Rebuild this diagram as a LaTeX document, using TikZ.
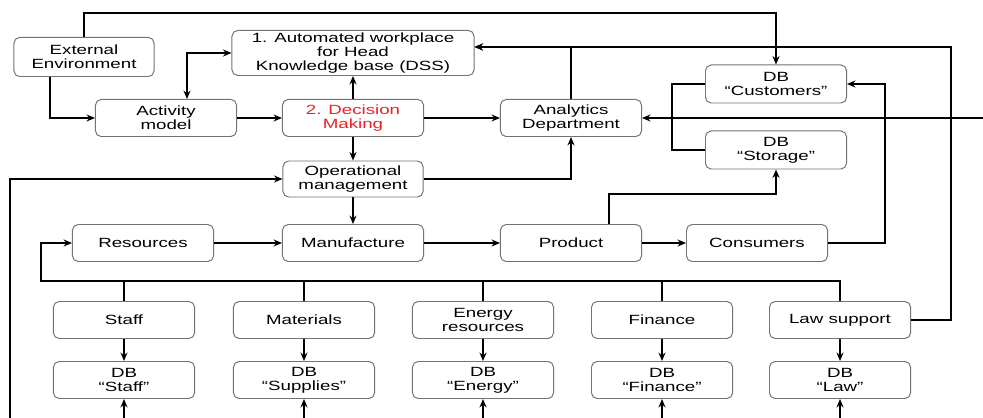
\documentclass[tikz,border=0pt]{standalone}
\usepackage{fontspec}
\setmainfont[FakeStretch=1.4]{Liberation Sans}
\usetikzlibrary{arrows.meta}
\definecolor{decred}{RGB}{236,32,38}

\begin{document}
\begin{tikzpicture}[x=0.025cm,y=-0.025cm,
    box/.style={draw=black!55,line width=0.7pt,rounded corners=4pt,fill=white,
        minimum width=3.525cm,minimum height=0.925cm,inner sep=1pt,align=center,
        font=\fontsize{9.5}{9.8}\selectfont}]
\useasboundingbox (0,0) rectangle (983,418);
\begin{scope}
    \node[box,minimum width=3.5cm,minimum height=0.975cm] (extenv) at (84,57) {External\\Environment};
    \node[box,minimum width=6.05cm,minimum height=1.125cm] (awp) at (353,53) {1. Automated workplace\\for Head\\Knowledge base (DSS)};
    \node[box] (actmod) at (166,118) {Activity\\model};
    \node[box,text=decred] (decis) at (353,118) {2. Decision\\Making};
    \node[box] (analyt) at (571,118) {Analytics\\Department};
    \node[box,minimum height=0.95cm] (dbcust) at (776,84) {DB\\``Customers''};
    \node[box,minimum height=0.95cm] (dbstor) at (776,150) {DB\\``Storage''};
    \node[box,minimum width=3.5cm,minimum height=0.9cm] (opman) at (353,179) {Operational\\management};

    \node[box] (resour) at (143,243) {Resources};
    \node[box] (manuf) at (353,243) {Manufacture};
    \node[box] (product) at (571,243) {Product};
    \node[box] (consum) at (757,243) {Consumers};

    \node[box] (staff) at (124,320) {Staff};
    \node[box] (mater) at (304,320) {Materials};
    \node[box] (energy) at (483,320) {Energy\\resources};
    \node[box] (finance) at (662,320) {Finance};
    \node[box] (law) at (840,320) {Law support};

    \node[box] (dbstaff) at (124,380) {DB\\``Staff''};
    \node[box] (dbsupp) at (304,380) {DB\\``Supplies''};
    \node[box] (dbenergy) at (483,380) {DB\\``Energy''};
    \node[box] (dbfin) at (662,380) {DB\\``Finance''};
    \node[box] (dblaw) at (840,380) {DB\\``Law''};

    \coordinate (toprun) at (84,13);
    \coordinate (lawtop) at (951,47);
    \coordinate (rightin) at (983,118);
    \coordinate (leftin) at (10,418);
    \coordinate (bus) at (41,281);
    \coordinate (bottom) at (0,418);
\end{scope}

\begin{scope}[>={Stealth[length=6pt,width=5pt]},line width=1.1pt]
    \draw[->] (extenv.north) -- (toprun) -| (dbcust.north);
    \draw[->] ([xshift=-0.85cm]extenv.south) |- (actmod.west);
    \draw[<->] ([xshift=0.525cm]actmod.north) |- (awp.west);
    \path[->] (actmod) edge (decis);
    \path[->] (decis) edge (awp);
    \path[->] (decis) edge (opman);
    \path[->] (decis) edge (analyt);
    \draw[->] (analyt.north) |- ([yshift=0.15cm]awp.east);
    \draw[->] (law.east) -| (lawtop) -- ([yshift=0.15cm]awp.east);
    \draw[->] (rightin) -- (analyt.east);
    \draw (dbcust.west) -- ++(-33,0) |- (dbstor.west);
    \draw[->] (leftin) |- (opman.west);
    \draw[->] (opman.east) -| (analyt.south);
    \path[->] (opman) edge (manuf);

    \path[->] (resour) edge (manuf);
    \path[->] (manuf) edge (product);
    \path[->] (product) edge (consum);
    \draw[->] ([xshift=0.95cm]product.north) -- ++(0,-30) -| (dbstor.south);
    \draw[->] (consum.east) -- ++(57,0) |- (dbcust.east);

    % resources bus
    \draw[->] (law.north) |- (bus) |- (resour.west);
    \foreach \n in {staff,mater,energy,finance}
        \draw (\n.north) -- (\n.north |- bus);

    \foreach \a/\b in {staff/dbstaff,mater/dbsupp,energy/dbenergy,finance/dbfin,law/dblaw}
        \path[->] (\a) edge (\b);
    \foreach \b in {dbstaff,dbsupp,dbenergy,dbfin,dblaw}
        \draw[->] (\b.south |- bottom) -- (\b.south);
\end{scope}
\end{tikzpicture}
\end{document}
